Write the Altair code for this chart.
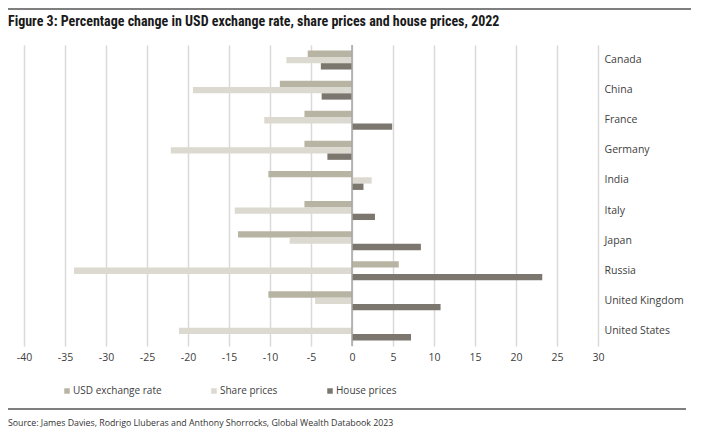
import altair as alt
import pandas as pd

countries = ["Canada", "China", "France", "Germany", "India", "Italy", "Japan",
             "Russia", "United Kingdom", "United States"]
usd_rate = [-5.4, -8.8, -5.8, -5.8, -10.2, -5.8, -13.9, 5.7, -10.2, 0.0]
share_prices = [-8.0, -19.4, -10.7, -22.1, 2.4, -14.3, -7.6, -33.9, -4.5, -21.1]
house_prices = [-3.8, -3.7, 4.9, -3.0, 1.4, 2.8, 8.4, 23.2, 10.8, 7.2]
series = ["USD exchange rate", "Share prices", "House prices"]
colors = ["#b8b4a3", "#dcd9d0", "#7b776f"]
x_ticks = list(range(-40, 31, 5))

title_text = "Figure 3: Percentage change in USD exchange rate, share prices and house prices, 2022"
source_text = "Source: James Davies, Rodrigo Lluberas and Anthony Shorrocks, Global Wealth Databook 2023"

rows = []
for i, c in enumerate(countries):
    for s, vals in zip(series, [usd_rate, share_prices, house_prices]):
        rows.append({"country": c, "series": s, "value": vals[i]})
df = pd.DataFrame(rows)

W, H = 574, 301
LABEL_FONT = "Open Sans"
TITLE_FONT = "'Roboto Condensed', 'DejaVu Sans Condensed', Lato, sans-serif"

bars = alt.Chart(df).mark_bar().encode(
    x=alt.X("value:Q",
            scale=alt.Scale(domain=[-40, 30], nice=False, zero=False),
            axis=alt.Axis(values=x_ticks, grid=True, gridColor="#d9d9d9", gridWidth=1.5,
                          domain=False, ticks=False, labelFontSize=10.5, labelColor="#404040",
                          labelFont=LABEL_FONT, labelPadding=6, title=None, labelFlush=False,
                          labelExpr="datum.value < 0 ? '-' + abs(datum.value) : '' + datum.value")),
    y=alt.Y("country:N", sort=countries,
            scale=alt.Scale(paddingInner=0.37, paddingOuter=0.185),
            axis=alt.Axis(orient="right", domain=False, ticks=False, grid=False,
                          labelAlign="left", labelPadding=6, title=None,
                          labelFontSize=10.5, labelColor="#404040", labelFont=LABEL_FONT)),
    yOffset=alt.YOffset("series:N", sort=series,
                        scale=alt.Scale(paddingInner=0, paddingOuter=0)),
    color=alt.Color("series:N", sort=series,
                    scale=alt.Scale(domain=series, range=colors),
                    legend=alt.Legend(orient="none", legendX=38, legendY=341,
                                      direction="horizontal", title=None,
                                      symbolType="square", symbolSize=30,
                                      symbolStrokeWidth=0, columnPadding=47,
                                      labelOffset=1, labelFontSize=10,
                                      labelFont=LABEL_FONT, labelColor="#404040",
                                      padding=0)),
)

zero = alt.Chart(pd.DataFrame({"zero": [0]})).mark_rule(
    color="#a6a6a6", strokeWidth=1.5).encode(x="zero:Q")

deco = pd.DataFrame({"k": [1]})
top_rule = alt.Chart(deco).mark_rule(color="#7f7f7f", strokeWidth=2).encode(
    x=alt.value(-17), x2=alt.value(667), y=alt.value(-36))
bottom_rule = alt.Chart(deco).mark_rule(color="#7f7f7f", strokeWidth=2).encode(
    x=alt.value(-16), x2=alt.value(662), y=alt.value(364))

title = alt.Chart(pd.DataFrame({"t": [title_text]})).mark_text(
    align="left", baseline="alphabetic", fontSize=14, fontWeight="bold",
    font=TITLE_FONT, color="#1a1a1a").encode(
    text="t:N", x=alt.value(-16), y=alt.value(-19))

source = alt.Chart(pd.DataFrame({"t": [source_text]})).mark_text(
    align="left", baseline="alphabetic", fontSize=8.8,
    font=LABEL_FONT, color="#333333").encode(
    text="t:N", x=alt.value(-16), y=alt.value(381))

chart = alt.layer(bars, zero, top_rule, bottom_rule, title, source).properties(
    width=W, height=H,
    autosize=alt.AutoSizeParams(type="none"),
    padding={"left": 16, "top": 37, "right": 110, "bottom": 91},
).configure_view(stroke=None)

chart.save("out.html", embed_options={"renderer": "svg", "actions": False})
